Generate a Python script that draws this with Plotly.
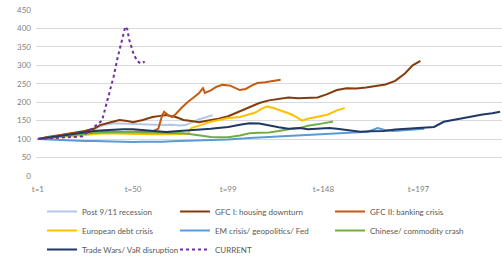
import plotly.graph_objects as go

# ---- data ----
tick_vals = [1, 50, 99, 148, 197]
tick_text = ["t=1", "t=50", "t=99", "t=148", "t=197"]

post911_t = [1, 5, 10, 15, 20, 25, 30, 35, 40, 45, 50, 55, 60, 65, 70, 74, 77, 80, 84, 88, 91]
post911_v = [100, 103, 106, 110, 115, 121, 130, 138, 143, 142, 139, 140, 139, 138, 139, 137, 138, 145, 154, 160, 165]

gfc1_t = [1, 5, 10, 15, 20, 25, 30, 33, 38, 43, 47, 50, 55, 60, 64, 67, 72, 76, 80, 84, 88, 94, 99, 105, 110,
          115, 120, 125, 130, 135, 140, 145, 150, 155, 160, 165, 170, 175, 180, 185, 190, 194, 198]
gfc1_v = [100, 103, 108, 113, 117, 122, 128, 138, 145, 152, 149, 146, 152, 160, 163, 165, 160, 152, 149, 146,
          150, 155, 162, 176, 188, 198, 205, 210, 213, 211, 212, 213, 222, 233, 238, 237, 240, 243, 248, 258,
          278, 300, 312]

gfc2_t = [1, 5, 10, 15, 20, 25, 30, 35, 40, 45, 50, 55, 60, 63, 65, 66, 68, 70, 72, 75, 78, 81, 84, 86, 87,
          90, 93, 96, 100, 105, 108, 111, 114, 118, 122, 126]
gfc2_v = [100, 105, 109, 113, 116, 118, 119, 119, 120, 119, 120, 119, 121, 128, 165, 174, 165, 160, 168, 185,
          200, 212, 225, 238, 225, 232, 242, 247, 245, 233, 236, 245, 252, 254, 258, 261]

euro_t = [1, 5, 10, 15, 20, 25, 30, 35, 40, 45, 50, 55, 60, 65, 70, 75, 78, 80, 83, 86, 90, 95, 99, 105,
          110, 113, 116, 119, 122, 125, 128, 131, 134, 137, 140, 145, 150, 155, 159]
euro_v = [100, 102, 104, 107, 110, 113, 115, 116, 115, 114, 113, 114, 113, 113, 114, 113, 114, 130, 136, 140,
          147, 153, 157, 160, 168, 172, 182, 188, 185, 180, 175, 168, 160, 150, 155, 160, 166, 178, 184]

em_t = [1, 5, 10, 15, 20, 25, 30, 35, 40, 45, 50, 55, 60, 65, 70, 75, 80, 90, 99, 110, 120, 130, 136, 145,
        153, 160, 165, 171, 176, 180, 184, 190, 195, 200]
em_v = [100, 99, 98, 97, 96, 95, 95, 94, 93, 92, 92, 93, 92, 93, 94, 95, 96, 97, 99, 103, 106, 108, 111, 113,
        116, 117, 118, 120, 130, 124, 122, 125, 127, 128]

china_t = [1, 5, 10, 15, 20, 25, 30, 35, 40, 45, 50, 55, 60, 65, 70, 76, 80, 85, 90, 95, 99, 105, 110, 115,
           120, 125, 130, 136, 140, 145, 150, 153]
china_v = [100, 103, 106, 109, 112, 115, 117, 118, 119, 119, 119, 118, 118, 117, 117, 116, 113, 109, 106, 105,
           105, 110, 116, 117, 118, 122, 127, 130, 136, 140, 145, 148]

trade_t = [1, 5, 10, 15, 20, 25, 30, 35, 40, 45, 50, 55, 60, 67, 72, 78, 84, 90, 95, 99, 105, 110, 115,
           120, 125, 130, 136, 140, 145, 151, 155, 160, 167, 172, 179, 185, 190, 193, 200, 205, 210, 215,
           220, 225, 230, 235, 239]
trade_v = [100, 103, 108, 112, 116, 119, 122, 124, 126, 127, 127, 125, 122, 119, 121, 123, 124, 128, 131, 133,
           139, 143, 142, 136, 132, 128, 130, 127, 129, 130, 128, 125, 120, 121, 122, 126, 128, 130, 132, 133,
           147, 152, 158, 164, 167, 170, 174]

current_t = [1, 5, 10, 15, 20, 24, 28, 32, 34, 36, 38, 40, 42, 44, 46, 47, 48, 50, 52, 54, 56]
current_v = [100, 102, 104, 105, 106, 108, 125, 140, 150, 190, 230, 270, 320, 365, 405, 398, 370, 335, 312, 305, 310]

series = [
    ("Post 9/11 recession", post911_t, post911_v, "#B4C7E7", "solid", "legend"),
    ("GFC I: housing downturn", gfc1_t, gfc1_v, "#843C0C", "solid", "legend2"),
    ("GFC II: banking crisis", gfc2_t, gfc2_v, "#C55A11", "solid", "legend3"),
    ("European debt crisis", euro_t, euro_v, "#FFC000", "solid", "legend"),
    ("EM crisis/ geopolitics/ Fed", em_t, em_v, "#5B9BD5", "solid", "legend2"),
    ("Chinese/ commodity crash", china_t, china_v, "#70AD47", "solid", "legend3"),
    ("Trade Wars/ VaR disruption", trade_t, trade_v, "#203864", "solid", "legend"),
    ("CURRENT", current_t, current_v, "#7030A0", "dot", "legend2"),
]

fig = go.Figure()
for name, t, v, color, dash, lg in series:
    fig.add_trace(go.Scatter(
        x=t, y=v, mode="lines", name=name, legend=lg,
        line=dict(color=color, width=2, dash=dash),
    ))

W, H = 502, 257
ML, MR, MT, MB = 36, 0, 10, H - 176
PW, PH = W - ML - MR, H - MT - MB


def px_x(screen_x):
    return (screen_x - ML) / PW


def px_y(screen_y):
    return (H - MB - screen_y) / PH


legend_common = dict(
    orientation="v", xref="paper", yref="paper",
    xanchor="left", yanchor="top", bgcolor="rgba(0,0,0,0)",
    font=dict(family="Lato, Open Sans, sans-serif", size=8, color="#595959"),
    itemwidth=30, tracegroupgap=0,
)

legend_top = 197
fig.update_layout(
    width=W, height=H,
    margin=dict(l=ML, r=MR, t=MT, b=MB, autoexpand=False),
    paper_bgcolor="white", plot_bgcolor="white",
    font=dict(family="Lato, Open Sans, sans-serif", size=8, color="#7F7F7F"),
    xaxis=dict(
        range=[0, 240], tickmode="array", tickvals=tick_vals, ticktext=tick_text,
        showgrid=False, zeroline=False, showline=False, ticks="",
        tickfont=dict(size=8, color="#7F7F7F"), automargin=False,
        ticklabelstandoff=7,
    ),
    yaxis=dict(
        range=[0, 450], dtick=50, showgrid=True, gridcolor="#D9D9D9", gridwidth=1,
        zeroline=False, showline=False, ticks="",
        tickfont=dict(size=8, color="#7F7F7F"), automargin=False,
        ticklabelstandoff=4,
    ),
    legend=dict(x=px_x(42), y=px_y(legend_top), **legend_common),
    legend2=dict(x=px_x(175), y=px_y(legend_top), **legend_common),
    legend3=dict(x=px_x(330), y=px_y(legend_top), **legend_common),
)

fig.write_html(
    "out.html",
    config={"displayModeBar": False},
    post_script="document.body.style.margin='0px';",
)
